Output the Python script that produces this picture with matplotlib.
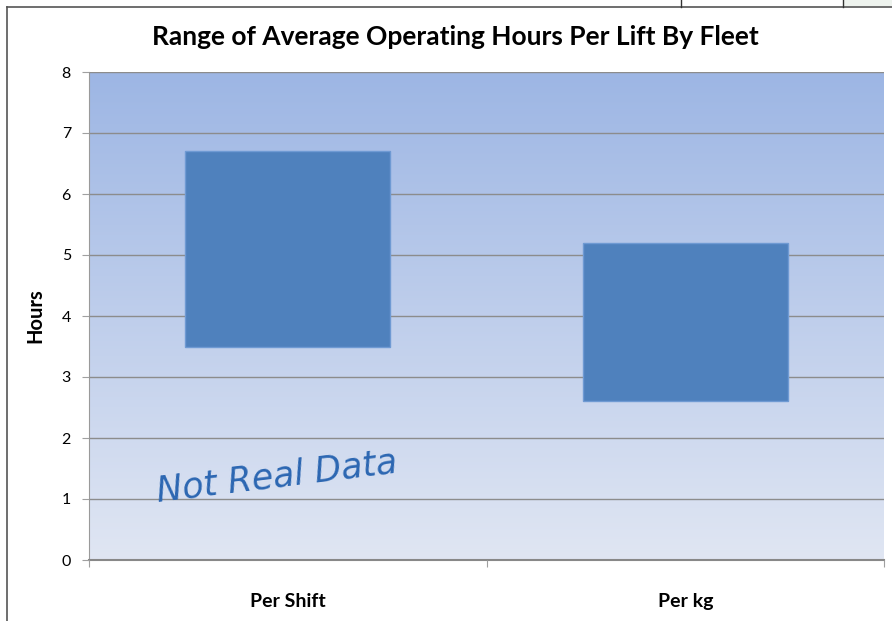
import numpy as np
import matplotlib
matplotlib.use("Agg")
import matplotlib.pyplot as plt
from matplotlib.lines import Line2D
from matplotlib.patches import Rectangle

# data
categories = ["Per Shift", "Per kg"]
range_low = [3.5, 2.6]
range_high = [6.7, 5.2]

plt.rcParams['font.family'] = ['Lato', 'DejaVu Sans']

fig = plt.figure(figsize=(8.92, 6.21), dpi=100)
ax = fig.add_axes([89 / 892, 1 - 560 / 621, 795 / 892, 488 / 621])

# gradient plot area
top_col = np.array([157, 182, 228]) / 255
bot_col = np.array([224, 230, 243]) / 255
t = np.linspace(0, 1, 256)[:, None]
grad = (top_col * (1 - t) + bot_col * t)[:, None, :]
ax.imshow(grad, extent=[-0.5, 1.5, 0, 8], aspect='auto', zorder=0)

x = np.arange(len(categories))
heights = [h - l for h, l in zip(range_high, range_low)]
ax.bar(x, heights, bottom=range_low, width=0.515, color="#4F81BD",
       edgecolor="#6F9AD3", linewidth=1, zorder=3)

ax.set_xlim(-0.5, 1.5)
ax.set_ylim(0, 8)
ax.set_yticks(range(0, 9))
ax.yaxis.grid(True, color="#8C8C8C", linewidth=1)
ax.set_axisbelow(False)
for gl in ax.get_ygridlines():
    gl.set_zorder(1)

ax.set_xticks([-0.5, 0.5, 1.5])
ax.set_xticklabels([])
ax.set_xticks(x, minor=True)
ax.set_xticklabels(categories, minor=True, fontsize=14, fontweight='bold')
ax.tick_params(axis='x', which='minor', length=0, pad=24)
ax.tick_params(axis='x', which='major', length=5, color="#A0A0A0", direction='out')
ax.tick_params(axis='y', length=5, color="#A0A0A0", labelsize=11.5, pad=8)

for s in ["top", "right"]:
    ax.spines[s].set_visible(False)
ax.spines["left"].set_color("#9A9A9A")
ax.spines["bottom"].set_color("#888888")
ax.spines["bottom"].set_linewidth(1.5)

ax.set_ylabel("Hours", fontsize=14.5, fontweight='bold', labelpad=12)

fig.text(455 / 892, 1 - 37 / 621, "Range of Average Operating Hours Per Lift By Fleet",
         ha='center', va='center', fontsize=19, fontweight='bold')

# watermark
ax.text(-0.335, 0.85, "Not Real Data", fontsize=25, style='italic',
        color="#2C67B2", rotation=7, ha='left', va='bottom',
        family=['DejaVu Sans'], zorder=4)

# chart frame / sheet lines
fig.add_artist(Rectangle((844 / 892, 1 - 6 / 621), 1, 6 / 621, color="#EEF3EE", lw=0))
fig.add_artist(Line2D([7 / 892, 7 / 892], [0, 1 - 7 / 621], color="#555555", lw=1.2))
fig.add_artist(Line2D([7 / 892, 1], [1 - 7 / 621, 1 - 7 / 621], color="#555555", lw=1.2))
fig.add_artist(Line2D([681 / 892, 681 / 892], [1 - 7 / 621, 1], color="#333333", lw=1))
fig.add_artist(Line2D([843 / 892, 843 / 892], [1 - 7 / 621, 1], color="#333333", lw=1))

fig.savefig("out.png", dpi=100)
